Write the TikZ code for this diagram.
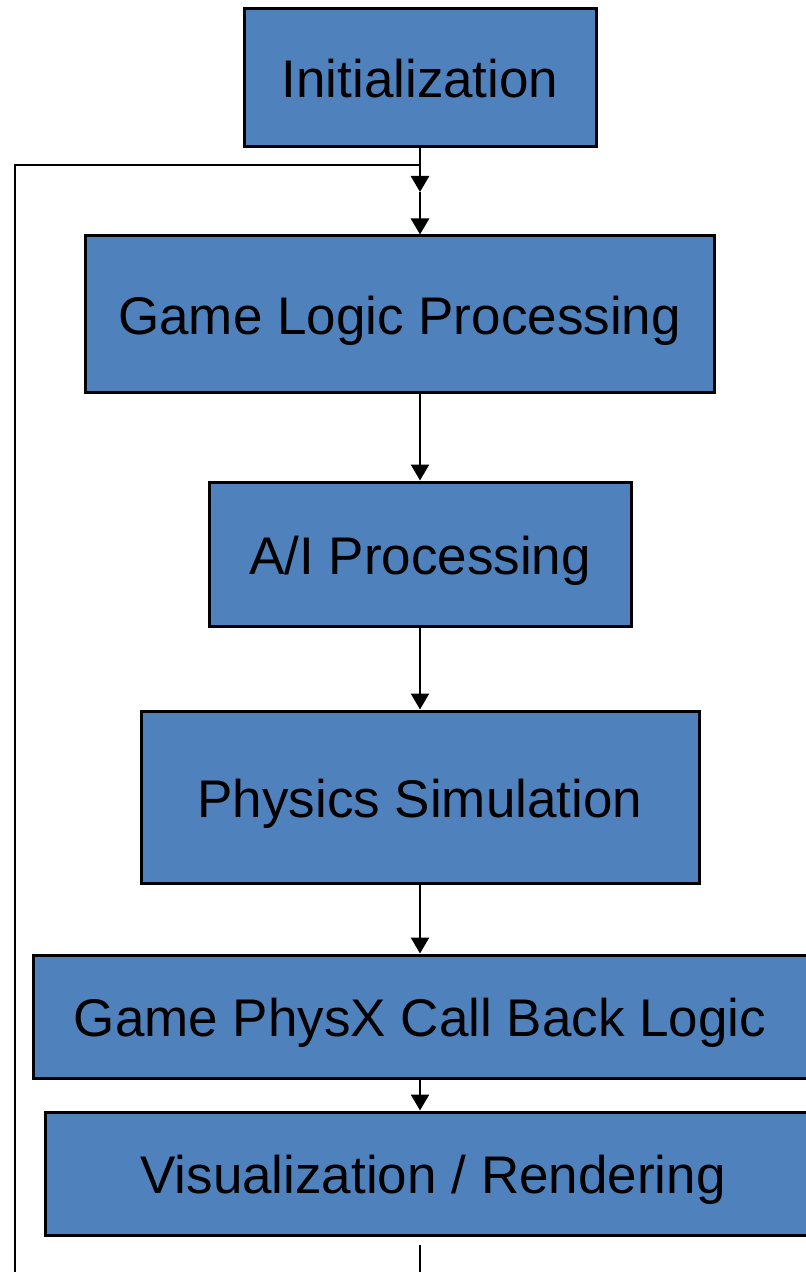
\documentclass[tikz,border=0pt]{standalone}
\usepackage{fontspec}
\setmainfont{Liberation Sans}
\usetikzlibrary{arrows.meta}
\definecolor{boxblue}{HTML}{4F81BD}

\begin{document}
\begin{tikzpicture}[x=0.5pt, y=-0.5pt,
stagebox/.style = {draw, line width=1.5pt, fill=boxblue, inner sep=0pt,
	text height=20pt, text depth=0pt, font=\fontsize{26.5}{30}\selectfont},
flow/.style = {line width=1.3pt, -{Triangle[length=8pt, width=9pt]}},
wire/.style = {line width=1.3pt}
]
\clip (0, 0) rectangle (806, 1272);
%\draw[help lines] (0, 0) grid[step=100] (806, 1272);
\node[stagebox, minimum width=176pt, minimum height=69pt] (init) at (420, 78) {Initialization};
\node[stagebox, minimum width=314.5pt, minimum height=78.5pt] (logic) at (399.5, 314.5) {Game Logic Processing};
\node[stagebox, minimum width=211pt, minimum height=72pt] (ai) at (420, 554) {A/I Processing};
\node[stagebox, minimum width=279pt, minimum height=86pt] (phys) at (420, 797) {Physics Simulation};
\node[stagebox, minimum width=387pt, minimum height=61.5pt] (callback) at (420, 1016.5) {Game PhysX Call Back Logic};
\node[stagebox, minimum width=388pt, minimum height=61.5pt] (render) at (433, 1173.5) {Visualization / Rendering};

\coordinate (loopin) at (420, 165);
\coordinate (merge) at (420, 192);
\coordinate (loopcorner) at (15, 165);
\coordinate (loopbottom) at (15, 1272);
\coordinate (renderout) at (420, 1245);
\coordinate (renderend) at (420, 1272);

\draw[flow] (init.south) -- (merge);
\draw[flow] (merge) -- (merge |- logic.north);
\draw[wire] (loopbottom) -- (loopcorner) -- (loopin);
\draw[flow] (logic.south -| ai.north) -- (ai.north);
\draw[flow] (ai.south) -- (phys.north);
\draw[flow] (phys.south) -- (callback.north);
\draw[flow] (callback.south) -- (callback.south |- render.north);
\draw[wire] (renderout) -- (renderend);
\end{tikzpicture}
\end{document}
